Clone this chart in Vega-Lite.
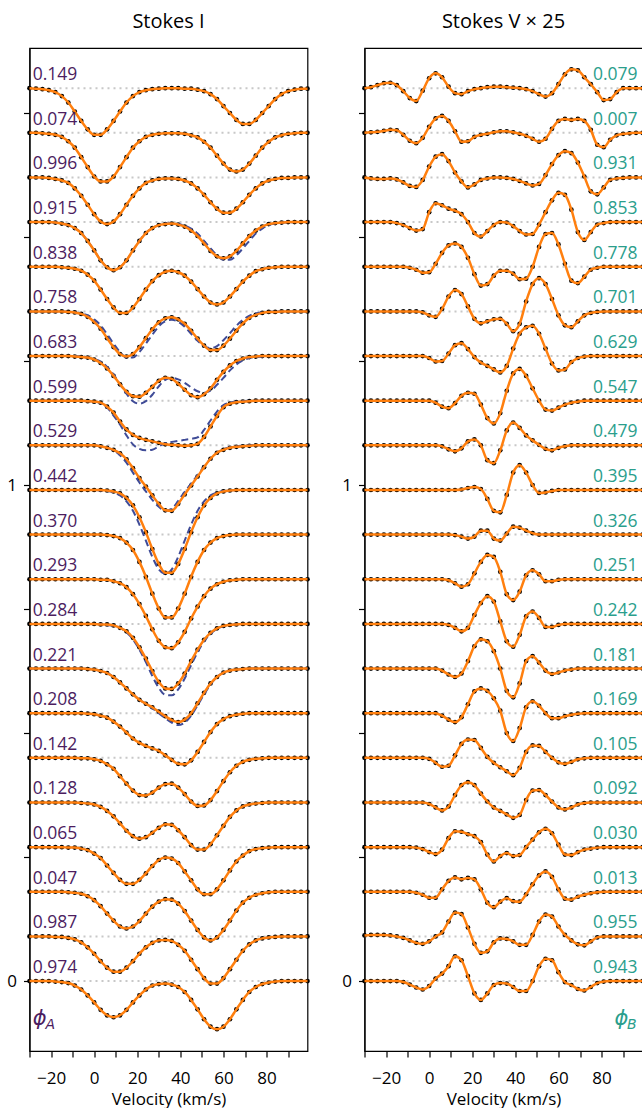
{
"$schema":"https://vega.github.io/schema/vega-lite/v6.json",
"padding":{"left":5.5,"top":11,"right":0,"bottom":0},
"spacing":27,
"config":{"font":"Open Sans","view":{"stroke":"black","strokeWidth":1.2},
"axis":{"grid":false,"domainColor":"black","tickColor":"black","labelColor":"black","titleColor":"black","labelFontSize":17,"titleFontSize":17,"titleFontWeight":"normal","tickSize":6,"domainWidth":1.2,"tickWidth":1.2,"labelOverlap":false},
"axisX":{"labelPadding":13,"titlePadding":5},"axisY":{"labelPadding":7},
"title":{"fontSize":20,"fontWeight":"normal","color":"black","offset":16}},
"datasets":{
"cont":[{"k":0,"c":0,"pa":"0.974","pb":"0.943"},{"k":1,"c":0.09,"pa":"0.987","pb":"0.955"},{"k":2,"c":0.18,"pa":"0.047","pb":"0.013"},{"k":3,"c":0.27,"pa":"0.065","pb":"0.030"},{"k":4,"c":0.36,"pa":"0.128","pb":"0.092"},{"k":5,"c":0.45,"pa":"0.142","pb":"0.105"},{"k":6,"c":0.54,"pa":"0.208","pb":"0.169"},{"k":7,"c":0.63,"pa":"0.221","pb":"0.181"},{"k":8,"c":0.72,"pa":"0.284","pb":"0.242"},{"k":9,"c":0.81,"pa":"0.293","pb":"0.251"},{"k":10,"c":0.9,"pa":"0.370","pb":"0.326"},{"k":11,"c":0.99,"pa":"0.442","pb":"0.395"},{"k":12,"c":1.08,"pa":"0.529","pb":"0.479"},{"k":13,"c":1.17,"pa":"0.599","pb":"0.547"},{"k":14,"c":1.26,"pa":"0.683","pb":"0.629"},{"k":15,"c":1.35,"pa":"0.758","pb":"0.701"},{"k":16,"c":1.44,"pa":"0.838","pb":"0.778"},{"k":17,"c":1.53,"pa":"0.915","pb":"0.853"},{"k":18,"c":1.62,"pa":"0.996","pb":"0.931"},{"k":19,"c":1.71,"pa":"0.074","pb":"0.007"},{"k":20,"c":1.8,"pa":"0.149","pb":"0.079"}],
"I":[
{"k":20,"v":[-30,-27,-24,-21,-18,-15,-12,-9,-6,-3,0,3,6,9,12,15,18,21,24,27,30,33,36,39,42,45,48,51,54,57,60,63,66,69,72,75,78,81,84,87,90,93,96,99],"m":[1.8,1.799,1.798,1.796,1.792,1.784,1.771,1.753,1.734,1.717,1.706,1.706,1.717,1.734,1.753,1.771,1.784,1.792,1.796,1.798,1.799,1.8,1.8,1.8,1.799,1.799,1.797,1.794,1.788,1.778,1.764,1.75,1.736,1.728,1.728,1.736,1.75,1.764,1.778,1.788,1.794,1.797,1.799,1.799]},
{"k":19,"v":[-30,-27,-24,-21,-18,-15,-12,-9,-6,-3,0,3,6,9,12,15,18,21,24,27,30,33,36,39,42,45,48,51,54,57,60,63,66,69,72,75,78,81,84,87,90,93,96,99],"m":[1.71,1.71,1.709,1.708,1.706,1.702,1.693,1.68,1.661,1.641,1.622,1.612,1.612,1.622,1.641,1.661,1.68,1.693,1.702,1.706,1.708,1.709,1.709,1.709,1.708,1.705,1.701,1.692,1.68,1.664,1.648,1.636,1.632,1.636,1.648,1.664,1.68,1.692,1.701,1.705,1.708,1.709,1.71,1.71]},
{"k":18,"v":[-30,-27,-24,-21,-18,-15,-12,-9,-6,-3,0,3,6,9,12,15,18,21,24,27,30,33,36,39,42,45,48,51,54,57,60,63,66,69,72,75,78,81,84,87,90,93,96,99],"m":[1.62,1.62,1.62,1.619,1.617,1.614,1.609,1.598,1.583,1.565,1.546,1.531,1.526,1.531,1.546,1.565,1.583,1.598,1.609,1.614,1.617,1.618,1.618,1.617,1.614,1.608,1.598,1.585,1.57,1.557,1.549,1.549,1.557,1.57,1.585,1.598,1.608,1.614,1.617,1.619,1.619,1.62,1.62,1.62]},
{"k":17,"v":[-30,-27,-24,-21,-18,-15,-12,-9,-6,-3,0,3,6,9,12,15,18,21,24,27,30,33,36,39,42,45,48,51,54,57,60,63,66,69,72,75,78,81,84,87,90,93,96,99],"m":[1.53,1.53,1.53,1.53,1.529,1.527,1.524,1.518,1.508,1.492,1.473,1.453,1.439,1.433,1.439,1.453,1.473,1.492,1.508,1.518,1.524,1.526,1.527,1.525,1.521,1.513,1.502,1.487,1.472,1.461,1.457,1.461,1.472,1.487,1.502,1.513,1.521,1.526,1.528,1.529,1.53,1.53,1.53,1.53],"b":[1.53,1.53,1.53,1.53,1.529,1.527,1.524,1.518,1.508,1.492,1.473,1.453,1.439,1.433,1.439,1.453,1.473,1.492,1.508,1.518,1.524,1.527,1.527,1.526,1.523,1.517,1.507,1.492,1.477,1.463,1.454,1.454,1.463,1.477,1.492,1.507,1.517,1.524,1.527,1.529,1.529,1.53,1.53,1.53]},
{"k":16,"v":[-30,-27,-24,-21,-18,-15,-12,-9,-6,-3,0,3,6,9,12,15,18,21,24,27,30,33,36,39,42,45,48,51,54,57,60,63,66,69,72,75,78,81,84,87,90,93,96,99],"m":[1.44,1.44,1.44,1.44,1.44,1.439,1.438,1.436,1.432,1.424,1.412,1.394,1.375,1.358,1.347,1.347,1.358,1.375,1.394,1.411,1.423,1.43,1.432,1.429,1.422,1.41,1.395,1.38,1.368,1.364,1.368,1.38,1.395,1.41,1.422,1.431,1.435,1.438,1.439,1.44,1.44,1.44,1.44,1.44]},
{"k":15,"v":[-30,-27,-24,-21,-18,-15,-12,-9,-6,-3,0,3,6,9,12,15,18,21,24,27,30,33,36,39,42,45,48,51,54,57,60,63,66,69,72,75,78,81,84,87,90,93,96,99],"m":[1.35,1.35,1.35,1.35,1.35,1.35,1.349,1.348,1.345,1.339,1.329,1.315,1.296,1.278,1.264,1.259,1.264,1.278,1.296,1.314,1.328,1.336,1.338,1.334,1.325,1.311,1.295,1.281,1.272,1.272,1.281,1.295,1.311,1.326,1.337,1.343,1.347,1.349,1.349,1.35,1.35,1.35,1.35,1.35],"b":[1.35,1.35,1.35,1.35,1.35,1.35,1.349,1.348,1.346,1.342,1.334,1.322,1.304,1.285,1.268,1.257,1.257,1.268,1.285,1.303,1.32,1.33,1.333,1.329,1.319,1.305,1.291,1.28,1.276,1.28,1.292,1.306,1.321,1.333,1.341,1.346,1.348,1.349,1.35,1.35,1.35,1.35,1.35,1.35]},
{"k":14,"v":[-30,-27,-24,-21,-18,-15,-12,-9,-6,-3,0,3,6,9,12,15,18,21,24,27,30,33,36,39,42,45,48,51,54,57,60,63,66,69,72,75,78,81,84,87,90,93,96,99],"m":[1.26,1.26,1.26,1.26,1.26,1.26,1.26,1.259,1.258,1.257,1.253,1.246,1.235,1.22,1.203,1.188,1.179,1.178,1.186,1.198,1.21,1.216,1.214,1.204,1.192,1.181,1.177,1.183,1.195,1.212,1.228,1.241,1.25,1.255,1.258,1.259,1.26,1.26,1.26,1.26,1.26,1.26,1.26,1.26],"b":[1.26,1.26,1.26,1.26,1.26,1.26,1.26,1.26,1.259,1.257,1.254,1.249,1.238,1.223,1.203,1.184,1.169,1.164,1.169,1.182,1.199,1.212,1.216,1.213,1.206,1.197,1.189,1.186,1.19,1.202,1.216,1.231,1.243,1.251,1.256,1.258,1.259,1.26,1.26,1.26,1.26,1.26,1.26,1.26]},
{"k":13,"v":[-30,-27,-24,-21,-18,-15,-12,-9,-6,-3,0,3,6,9,12,15,18,21,24,27,30,33,36,39,42,45,48,51,54,57,60,63,66,69,72,75,78,81,84,87,90,93,96,99],"m":[1.17,1.17,1.17,1.17,1.17,1.17,1.17,1.17,1.17,1.169,1.168,1.166,1.158,1.146,1.128,1.112,1.101,1.095,1.091,1.088,1.085,1.082,1.081,1.08,1.079,1.08,1.083,1.097,1.118,1.139,1.157,1.164,1.167,1.168,1.169,1.17,1.17,1.17,1.17,1.17,1.17,1.17,1.17,1.17],"b":[1.17,1.17,1.17,1.17,1.17,1.17,1.17,1.17,1.17,1.169,1.168,1.165,1.156,1.14,1.122,1.1,1.082,1.073,1.07,1.071,1.078,1.084,1.087,1.089,1.091,1.093,1.096,1.111,1.13,1.148,1.161,1.166,1.168,1.169,1.17,1.17,1.17,1.17,1.17,1.17,1.17,1.17,1.17,1.17]},
{"k":12,"v":[-30,-27,-24,-21,-18,-15,-12,-9,-6,-3,0,3,6,9,12,15,18,21,24,27,30,33,36,39,42,45,48,51,54,57,60,63,66,69,72,75,78,81,84,87,90,93,96,99],"m":[1.08,1.08,1.08,1.08,1.08,1.08,1.08,1.08,1.08,1.08,1.08,1.078,1.075,1.071,1.064,1.052,1.034,1.014,0.997,0.979,0.962,0.949,0.948,0.962,0.981,0.999,1.017,1.036,1.053,1.065,1.071,1.075,1.077,1.078,1.079,1.08,1.08,1.08,1.08,1.08,1.08,1.08,1.08,1.08],"b":[1.08,1.08,1.08,1.08,1.08,1.08,1.08,1.08,1.08,1.08,1.08,1.078,1.075,1.07,1.06,1.045,1.025,1.005,0.987,0.97,0.956,0.948,0.952,0.968,0.986,1.003,1.02,1.037,1.053,1.065,1.072,1.076,1.078,1.079,1.08,1.08,1.08,1.08,1.08,1.08,1.08,1.08,1.08,1.08]},
{"k":11,"v":[-30,-27,-24,-21,-18,-15,-12,-9,-6,-3,0,3,6,9,12,15,18,21,24,27,30,33,36,39,42,45,48,51,54,57,60,63,66,69,72,75,78,81,84,87,90,93,96,99],"m":[0.99,0.99,0.99,0.99,0.99,0.99,0.99,0.99,0.99,0.99,0.99,0.99,0.989,0.987,0.983,0.974,0.959,0.935,0.905,0.871,0.841,0.823,0.823,0.841,0.871,0.905,0.935,0.959,0.974,0.983,0.987,0.989,0.99,0.99,0.99,0.99,0.99,0.99,0.99,0.99,0.99,0.99,0.99,0.99],"b":[0.99,0.99,0.99,0.99,0.99,0.99,0.99,0.99,0.99,0.99,0.99,0.989,0.988,0.985,0.979,0.967,0.948,0.92,0.888,0.855,0.83,0.821,0.83,0.855,0.888,0.92,0.948,0.967,0.979,0.985,0.988,0.989,0.99,0.99,0.99,0.99,0.99,0.99,0.99,0.99,0.99,0.99,0.99,0.99]},
{"k":10,"v":[-30,-27,-24,-21,-18,-15,-12,-9,-6,-3,0,3,6,9,12,15,18,21,24,27,30,33,36,39,42,45,48,51,54,57,60,63,66,69,72,75,78,81,84,87,90,93,96,99],"m":[0.9,0.9,0.9,0.9,0.9,0.9,0.9,0.9,0.9,0.9,0.9,0.9,0.899,0.897,0.893,0.884,0.869,0.845,0.815,0.781,0.751,0.733,0.733,0.751,0.781,0.815,0.845,0.869,0.884,0.893,0.897,0.899,0.9,0.9,0.9,0.9,0.9,0.9,0.9,0.9,0.9,0.9,0.9,0.9]},
{"k":9,"v":[-30,-27,-24,-21,-18,-15,-12,-9,-6,-3,0,3,6,9,12,15,18,21,24,27,30,33,36,39,42,45,48,51,54,57,60,63,66,69,72,75,78,81,84,87,90,93,96,99],"m":[0.81,0.81,0.81,0.81,0.81,0.81,0.81,0.81,0.81,0.81,0.81,0.809,0.809,0.806,0.802,0.794,0.78,0.76,0.736,0.709,0.686,0.673,0.671,0.683,0.704,0.731,0.755,0.776,0.791,0.8,0.805,0.808,0.809,0.81,0.81,0.81,0.81,0.81,0.81,0.81,0.81,0.81,0.81,0.81]},
{"k":8,"v":[-30,-27,-24,-21,-18,-15,-12,-9,-6,-3,0,3,6,9,12,15,18,21,24,27,30,33,36,39,42,45,48,51,54,57,60,63,66,69,72,75,78,81,84,87,90,93,96,99],"m":[0.72,0.72,0.72,0.72,0.72,0.72,0.72,0.72,0.72,0.72,0.72,0.719,0.719,0.717,0.712,0.705,0.692,0.673,0.65,0.625,0.603,0.59,0.589,0.6,0.62,0.645,0.668,0.688,0.702,0.711,0.716,0.718,0.719,0.72,0.72,0.72,0.72,0.72,0.72,0.72,0.72,0.72,0.72,0.72],"b":[0.72,0.72,0.72,0.72,0.72,0.72,0.72,0.72,0.72,0.72,0.72,0.72,0.718,0.716,0.712,0.703,0.689,0.668,0.643,0.615,0.591,0.577,0.576,0.588,0.61,0.637,0.663,0.685,0.7,0.71,0.715,0.718,0.719,0.72,0.72,0.72,0.72,0.72,0.72,0.72,0.72,0.72,0.72,0.72]},
{"k":7,"v":[-30,-27,-24,-21,-18,-15,-12,-9,-6,-3,0,3,6,9,12,15,18,21,24,27,30,33,36,39,42,45,48,51,54,57,60,63,66,69,72,75,78,81,84,87,90,93,96,99],"m":[0.63,0.63,0.63,0.63,0.63,0.63,0.63,0.63,0.63,0.629,0.628,0.625,0.621,0.613,0.602,0.59,0.578,0.567,0.559,0.552,0.543,0.534,0.526,0.522,0.527,0.54,0.56,0.581,0.6,0.613,0.622,0.626,0.628,0.629,0.63,0.63,0.63,0.63,0.63,0.63,0.63,0.63,0.63,0.63],"b":[0.63,0.63,0.63,0.63,0.63,0.63,0.63,0.63,0.63,0.629,0.628,0.625,0.621,0.613,0.602,0.59,0.578,0.567,0.559,0.55,0.54,0.53,0.521,0.516,0.521,0.535,0.556,0.578,0.598,0.613,0.622,0.626,0.628,0.629,0.63,0.63,0.63,0.63,0.63,0.63,0.63,0.63,0.63,0.63]},
{"k":6,"v":[-30,-27,-24,-21,-18,-15,-12,-9,-6,-3,0,3,6,9,12,15,18,21,24,27,30,33,36,39,42,45,48,51,54,57,60,63,66,69,72,75,78,81,84,87,90,93,96,99],"m":[0.54,0.54,0.54,0.54,0.54,0.54,0.54,0.54,0.54,0.539,0.538,0.535,0.531,0.523,0.513,0.501,0.489,0.48,0.474,0.469,0.464,0.455,0.446,0.438,0.437,0.445,0.462,0.482,0.502,0.518,0.528,0.534,0.537,0.539,0.54,0.54,0.54,0.54,0.54,0.54,0.54,0.54,0.54,0.54]},
{"k":5,"v":[-30,-27,-24,-21,-18,-15,-12,-9,-6,-3,0,3,6,9,12,15,18,21,24,27,30,33,36,39,42,45,48,51,54,57,60,63,66,69,72,75,78,81,84,87,90,93,96,99],"m":[0.45,0.45,0.45,0.45,0.45,0.45,0.45,0.45,0.449,0.449,0.447,0.444,0.437,0.428,0.413,0.398,0.384,0.375,0.374,0.38,0.39,0.397,0.398,0.39,0.377,0.362,0.353,0.354,0.365,0.383,0.403,0.421,0.434,0.442,0.446,0.448,0.449,0.45,0.45,0.45,0.45,0.45,0.45,0.45]},
{"k":4,"v":[-30,-27,-24,-21,-18,-15,-12,-9,-6,-3,0,3,6,9,12,15,18,21,24,27,30,33,36,39,42,45,48,51,54,57,60,63,66,69,72,75,78,81,84,87,90,93,96,99],"m":[0.36,0.36,0.36,0.36,0.36,0.36,0.36,0.36,0.359,0.358,0.356,0.351,0.343,0.332,0.318,0.303,0.292,0.287,0.29,0.299,0.309,0.316,0.315,0.304,0.29,0.274,0.265,0.265,0.276,0.294,0.313,0.331,0.344,0.352,0.356,0.358,0.359,0.36,0.36,0.36,0.36,0.36,0.36,0.36]},
{"k":3,"v":[-30,-27,-24,-21,-18,-15,-12,-9,-6,-3,0,3,6,9,12,15,18,21,24,27,30,33,36,39,42,45,48,51,54,57,60,63,66,69,72,75,78,81,84,87,90,93,96,99],"m":[0.27,0.27,0.27,0.27,0.27,0.27,0.269,0.269,0.267,0.264,0.257,0.248,0.233,0.218,0.204,0.196,0.196,0.204,0.217,0.232,0.244,0.249,0.247,0.238,0.221,0.203,0.185,0.175,0.175,0.185,0.203,0.223,0.241,0.253,0.262,0.266,0.268,0.269,0.27,0.27,0.27,0.27,0.27,0.27]},
{"k":2,"v":[-30,-27,-24,-21,-18,-15,-12,-9,-6,-3,0,3,6,9,12,15,18,21,24,27,30,33,36,39,42,45,48,51,54,57,60,63,66,69,72,75,78,81,84,87,90,93,96,99],"m":[0.18,0.18,0.18,0.18,0.18,0.18,0.179,0.178,0.176,0.171,0.163,0.151,0.136,0.122,0.11,0.106,0.11,0.121,0.136,0.15,0.16,0.165,0.164,0.156,0.141,0.122,0.103,0.088,0.082,0.088,0.103,0.122,0.142,0.158,0.168,0.174,0.177,0.179,0.18,0.18,0.18,0.18,0.18,0.18]},
{"k":1,"v":[-30,-27,-24,-21,-18,-15,-12,-9,-6,-3,0,3,6,9,12,15,18,21,24,27,30,33,36,39,42,45,48,51,54,57,60,63,66,69,72,75,78,81,84,87,90,93,96,99],"m":[0.09,0.09,0.09,0.09,0.089,0.089,0.087,0.084,0.078,0.068,0.055,0.04,0.027,0.019,0.019,0.027,0.04,0.055,0.068,0.077,0.082,0.083,0.081,0.073,0.061,0.043,0.024,0.006,-0.005,-0.005,0.006,0.024,0.043,0.061,0.074,0.082,0.086,0.088,0.089,0.09,0.09,0.09,0.09,0.09]},
{"k":0,"v":[-30,-27,-24,-21,-18,-15,-12,-9,-6,-3,0,3,6,9,12,15,18,21,24,27,30,33,36,39,42,45,48,51,54,57,60,63,66,69,72,75,78,81,84,87,90,93,96,99],"m":[0,0,0,0,-0.001,-0.002,-0.004,-0.009,-0.017,-0.029,-0.043,-0.058,-0.069,-0.073,-0.069,-0.058,-0.043,-0.029,-0.017,-0.009,-0.006,-0.005,-0.007,-0.012,-0.022,-0.038,-0.057,-0.077,-0.092,-0.097,-0.092,-0.077,-0.057,-0.038,-0.022,-0.012,-0.006,-0.003,-0.001,0,0,0,0,0]}
],
"V":[
{"k":20,"v":[-30,-27,-24,-21,-18,-15,-12,-9,-6,-3,0,3,6,9,12,15,18,21,24,27,30,33,36,39,42,45,48,51,54,57,60,63,66,69,72,75,78,81,84,87,90,93,96,99],"m":[1.8,1.802,1.806,1.81,1.811,1.806,1.794,1.78,1.774,1.795,1.82,1.83,1.822,1.803,1.79,1.788,1.794,1.798,1.8,1.802,1.803,1.803,1.802,1.801,1.8,1.798,1.794,1.788,1.783,1.79,1.808,1.828,1.838,1.836,1.822,1.808,1.792,1.776,1.778,1.792,1.8,1.8,1.8,1.8]},
{"k":19,"v":[-30,-27,-24,-21,-18,-15,-12,-9,-6,-3,0,3,6,9,12,15,18,21,24,27,30,33,36,39,42,45,48,51,54,57,60,63,66,69,72,75,78,81,84,87,90,93,96,99],"m":[1.71,1.711,1.712,1.714,1.716,1.715,1.706,1.694,1.689,1.7,1.722,1.739,1.744,1.734,1.713,1.692,1.693,1.702,1.706,1.708,1.711,1.713,1.713,1.711,1.708,1.704,1.698,1.692,1.698,1.718,1.734,1.738,1.736,1.738,1.734,1.716,1.686,1.681,1.696,1.705,1.708,1.709,1.71,1.71]},
{"k":18,"v":[-30,-27,-24,-21,-18,-15,-12,-9,-6,-3,0,3,6,9,12,15,18,21,24,27,30,33,36,39,42,45,48,51,54,57,60,63,66,69,72,75,78,81,84,87,90,93,96,99],"m":[1.62,1.618,1.617,1.617,1.618,1.616,1.61,1.603,1.601,1.615,1.642,1.662,1.667,1.653,1.63,1.612,1.6,1.606,1.615,1.618,1.62,1.62,1.619,1.617,1.613,1.608,1.604,1.607,1.625,1.647,1.665,1.673,1.669,1.65,1.622,1.592,1.586,1.6,1.615,1.618,1.619,1.62,1.62,1.62]},
{"k":17,"v":[-30,-27,-24,-21,-18,-15,-12,-9,-6,-3,0,3,6,9,12,15,18,21,24,27,30,33,36,39,42,45,48,51,54,57,60,63,66,69,72,75,78,81,84,87,90,93,96,99],"m":[1.53,1.53,1.53,1.53,1.53,1.528,1.524,1.518,1.513,1.516,1.55,1.568,1.564,1.557,1.553,1.546,1.53,1.508,1.501,1.512,1.524,1.53,1.529,1.522,1.512,1.505,1.506,1.525,1.55,1.574,1.589,1.585,1.555,1.51,1.494,1.51,1.525,1.528,1.53,1.53,1.53,1.53,1.53,1.53]},
{"k":16,"v":[-30,-27,-24,-21,-18,-15,-12,-9,-6,-3,0,3,6,9,12,15,18,21,24,27,30,33,36,39,42,45,48,51,54,57,60,63,66,69,72,75,78,81,84,87,90,93,96,99],"m":[1.44,1.44,1.44,1.44,1.44,1.44,1.44,1.438,1.434,1.428,1.429,1.446,1.468,1.483,1.487,1.48,1.458,1.425,1.402,1.405,1.422,1.432,1.432,1.426,1.415,1.416,1.44,1.48,1.506,1.508,1.485,1.446,1.412,1.407,1.42,1.434,1.438,1.44,1.44,1.44,1.44,1.44,1.44,1.44]},
{"k":15,"v":[-30,-27,-24,-21,-18,-15,-12,-9,-6,-3,0,3,6,9,12,15,18,21,24,27,30,33,36,39,42,45,48,51,54,57,60,63,66,69,72,75,78,81,84,87,90,93,96,99],"m":[1.35,1.35,1.35,1.35,1.35,1.35,1.35,1.35,1.35,1.348,1.342,1.339,1.355,1.38,1.393,1.385,1.36,1.335,1.326,1.33,1.334,1.335,1.325,1.31,1.325,1.37,1.405,1.417,1.405,1.375,1.342,1.322,1.318,1.33,1.342,1.347,1.349,1.35,1.35,1.35,1.35,1.35,1.35,1.35]},
{"k":14,"v":[-30,-27,-24,-21,-18,-15,-12,-9,-6,-3,0,3,6,9,12,15,18,21,24,27,30,33,36,39,42,45,48,51,54,57,60,63,66,69,72,75,78,81,84,87,90,93,96,99],"m":[1.26,1.26,1.26,1.26,1.26,1.26,1.26,1.26,1.26,1.26,1.256,1.249,1.25,1.265,1.282,1.286,1.274,1.258,1.247,1.24,1.233,1.227,1.24,1.275,1.305,1.318,1.321,1.305,1.275,1.245,1.231,1.233,1.248,1.256,1.259,1.26,1.26,1.26,1.26,1.26,1.26,1.26,1.26,1.26]},
{"k":13,"v":[-30,-27,-24,-21,-18,-15,-12,-9,-6,-3,0,3,6,9,12,15,18,21,24,27,30,33,36,39,42,45,48,51,54,57,60,63,66,69,72,75,78,81,84,87,90,93,96,99],"m":[1.17,1.17,1.17,1.17,1.17,1.17,1.17,1.17,1.17,1.17,1.17,1.166,1.158,1.155,1.165,1.18,1.186,1.184,1.162,1.135,1.124,1.145,1.19,1.225,1.234,1.22,1.195,1.17,1.152,1.15,1.156,1.162,1.166,1.168,1.17,1.17,1.17,1.17,1.17,1.17,1.17,1.17,1.17,1.17]},
{"k":12,"v":[-30,-27,-24,-21,-18,-15,-12,-9,-6,-3,0,3,6,9,12,15,18,21,24,27,30,33,36,39,42,45,48,51,54,57,60,63,66,69,72,75,78,81,84,87,90,93,96,99],"m":[1.08,1.08,1.08,1.08,1.08,1.08,1.08,1.08,1.08,1.08,1.08,1.08,1.078,1.072,1.068,1.074,1.088,1.092,1.08,1.05,1.044,1.07,1.11,1.126,1.115,1.1,1.09,1.081,1.073,1.07,1.075,1.078,1.08,1.08,1.08,1.08,1.08,1.08,1.08,1.08,1.08,1.08,1.08,1.08]},
{"k":11,"v":[-30,-27,-24,-21,-18,-15,-12,-9,-6,-3,0,3,6,9,12,15,18,21,24,27,30,33,36,39,42,45,48,51,54,57,60,63,66,69,72,75,78,81,84,87,90,93,96,99],"m":[0.99,0.99,0.99,0.99,0.99,0.99,0.99,0.99,0.99,0.99,0.99,0.99,0.99,0.99,0.99,0.991,0.994,0.996,0.992,0.972,0.948,0.945,0.98,1.025,1.04,1.025,1,0.984,0.985,0.988,0.99,0.99,0.99,0.99,0.99,0.99,0.99,0.99,0.99,0.99,0.99,0.99,0.99,0.99]},
{"k":10,"v":[-30,-27,-24,-21,-18,-15,-12,-9,-6,-3,0,3,6,9,12,15,18,21,24,27,30,33,36,39,42,45,48,51,54,57,60,63,66,69,72,75,78,81,84,87,90,93,96,99],"m":[0.9,0.9,0.9,0.9,0.9,0.9,0.9,0.9,0.9,0.9,0.9,0.9,0.9,0.9,0.899,0.896,0.892,0.896,0.908,0.908,0.892,0.888,0.902,0.916,0.914,0.908,0.903,0.9,0.9,0.9,0.9,0.9,0.9,0.9,0.9,0.9,0.9,0.9,0.9,0.9,0.9,0.9,0.9,0.9]},
{"k":9,"v":[-30,-27,-24,-21,-18,-15,-12,-9,-6,-3,0,3,6,9,12,15,18,21,24,27,30,33,36,39,42,45,48,51,54,57,60,63,66,69,72,75,78,81,84,87,90,93,96,99],"m":[0.81,0.81,0.81,0.81,0.81,0.81,0.81,0.81,0.81,0.81,0.81,0.81,0.81,0.808,0.802,0.795,0.8,0.822,0.845,0.859,0.855,0.825,0.78,0.768,0.785,0.818,0.828,0.82,0.806,0.806,0.809,0.81,0.81,0.81,0.81,0.81,0.81,0.81,0.81,0.81,0.81,0.81,0.81,0.81]},
{"k":8,"v":[-30,-27,-24,-21,-18,-15,-12,-9,-6,-3,0,3,6,9,12,15,18,21,24,27,30,33,36,39,42,45,48,51,54,57,60,63,66,69,72,75,78,81,84,87,90,93,96,99],"m":[0.72,0.72,0.72,0.72,0.72,0.72,0.72,0.72,0.72,0.72,0.72,0.72,0.72,0.718,0.712,0.705,0.712,0.738,0.762,0.776,0.765,0.725,0.685,0.674,0.698,0.735,0.745,0.732,0.714,0.714,0.718,0.72,0.72,0.72,0.72,0.72,0.72,0.72,0.72,0.72,0.72,0.72,0.72,0.72]},
{"k":7,"v":[-30,-27,-24,-21,-18,-15,-12,-9,-6,-3,0,3,6,9,12,15,18,21,24,27,30,33,36,39,42,45,48,51,54,57,60,63,66,69,72,75,78,81,84,87,90,93,96,99],"m":[0.63,0.63,0.63,0.63,0.63,0.63,0.63,0.63,0.63,0.63,0.63,0.63,0.626,0.618,0.613,0.62,0.645,0.675,0.689,0.685,0.665,0.63,0.585,0.572,0.6,0.645,0.655,0.642,0.626,0.619,0.622,0.626,0.628,0.63,0.63,0.63,0.63,0.63,0.63,0.63,0.63,0.63,0.63,0.63]},
{"k":6,"v":[-30,-27,-24,-21,-18,-15,-12,-9,-6,-3,0,3,6,9,12,15,18,21,24,27,30,33,36,39,42,45,48,51,54,57,60,63,66,69,72,75,78,81,84,87,90,93,96,99],"m":[0.54,0.54,0.54,0.54,0.54,0.54,0.54,0.54,0.54,0.54,0.54,0.54,0.535,0.527,0.522,0.532,0.558,0.584,0.59,0.585,0.57,0.545,0.5,0.484,0.51,0.552,0.564,0.555,0.54,0.53,0.53,0.534,0.537,0.539,0.54,0.54,0.54,0.54,0.54,0.54,0.54,0.54,0.54,0.54]},
{"k":5,"v":[-30,-27,-24,-21,-18,-15,-12,-9,-6,-3,0,3,6,9,12,15,18,21,24,27,30,33,36,39,42,45,48,51,54,57,60,63,66,69,72,75,78,81,84,87,90,93,96,99],"m":[0.45,0.45,0.45,0.45,0.45,0.45,0.45,0.45,0.45,0.45,0.448,0.44,0.432,0.434,0.455,0.478,0.487,0.486,0.47,0.452,0.44,0.431,0.423,0.415,0.43,0.462,0.475,0.474,0.462,0.45,0.441,0.438,0.442,0.447,0.449,0.45,0.45,0.45,0.45,0.45,0.45,0.45,0.45,0.45]},
{"k":4,"v":[-30,-27,-24,-21,-18,-15,-12,-9,-6,-3,0,3,6,9,12,15,18,21,24,27,30,33,36,39,42,45,48,51,54,57,60,63,66,69,72,75,78,81,84,87,90,93,96,99],"m":[0.36,0.36,0.36,0.36,0.36,0.36,0.36,0.36,0.36,0.36,0.357,0.35,0.344,0.352,0.375,0.395,0.401,0.395,0.378,0.362,0.35,0.343,0.336,0.329,0.335,0.365,0.384,0.385,0.375,0.362,0.35,0.346,0.35,0.356,0.359,0.36,0.36,0.36,0.36,0.36,0.36,0.36,0.36,0.36]},
{"k":3,"v":[-30,-27,-24,-21,-18,-15,-12,-9,-6,-3,0,3,6,9,12,15,18,21,24,27,30,33,36,39,42,45,48,51,54,57,60,63,66,69,72,75,78,81,84,87,90,93,96,99],"m":[0.27,0.27,0.27,0.27,0.27,0.27,0.27,0.27,0.269,0.266,0.26,0.256,0.265,0.288,0.302,0.301,0.296,0.292,0.28,0.255,0.241,0.252,0.258,0.252,0.254,0.27,0.285,0.3,0.307,0.298,0.275,0.255,0.254,0.26,0.265,0.267,0.269,0.27,0.27,0.27,0.27,0.27,0.27,0.27]},
{"k":2,"v":[-30,-27,-24,-21,-18,-15,-12,-9,-6,-3,0,3,6,9,12,15,18,21,24,27,30,33,36,39,42,45,48,51,54,57,60,63,66,69,72,75,78,81,84,87,90,93,96,99],"m":[0.18,0.18,0.18,0.18,0.18,0.18,0.18,0.18,0.178,0.174,0.168,0.168,0.185,0.202,0.209,0.205,0.208,0.205,0.185,0.158,0.149,0.16,0.167,0.161,0.16,0.175,0.195,0.213,0.221,0.21,0.185,0.166,0.164,0.17,0.174,0.177,0.179,0.18,0.18,0.18,0.18,0.18,0.18,0.18]},
{"k":1,"v":[-30,-27,-24,-21,-18,-15,-12,-9,-6,-3,0,3,6,9,12,15,18,21,24,27,30,33,36,39,42,45,48,51,54,57,60,63,66,69,72,75,78,81,84,87,90,93,96,99],"m":[0.092,0.093,0.093,0.093,0.092,0.09,0.087,0.082,0.077,0.075,0.08,0.09,0.098,0.12,0.138,0.135,0.108,0.075,0.057,0.06,0.078,0.086,0.085,0.08,0.073,0.073,0.093,0.12,0.134,0.13,0.11,0.093,0.082,0.074,0.072,0.08,0.088,0.09,0.09,0.09,0.09,0.09,0.09,0.09]},
{"k":0,"v":[-30,-27,-24,-21,-18,-15,-12,-9,-6,-3,0,3,6,9,12,15,18,21,24,27,30,33,36,39,42,45,48,51,54,57,60,63,66,69,72,75,78,81,84,87,90,93,96,99],"m":[0,0,0,0,0,0,-0.002,-0.007,-0.013,-0.017,-0.01,0.005,0.015,0.03,0.05,0.042,0.01,-0.025,-0.038,-0.025,-0.008,-0.004,-0.005,-0.012,-0.02,-0.02,0,0.03,0.045,0.042,0.018,-0.002,-0.008,-0.016,-0.019,-0.012,-0.004,-0.001,0,0,0,0,0,0]}
]},
"hconcat":[
{"title":"Stokes I","width":278,"height":1003,"resolve":{"axis":{"x":"independent"}},"layer":[
{"data":{"name":"cont"},"mark":{"type":"rule","color":"#c8c8c8","strokeDash":[2,4],"strokeWidth":2},"encoding":{"y":{"field":"c","type":"quantitative","scale":{"domain":[-0.141,1.881],"nice":false,"zero":false},"axis":{"values":[0,0.25,0.5,0.75,1,1.25,1.5,1.75],"labelExpr":"datum.value === 0 ? '0' : datum.value === 1 ? '1' : ''"},"title":null}}},
{"data":{"name":"I"},"transform":[{"flatten":["v","m"]}],"mark":{"type":"point","filled":true,"color":"black","size":22,"opacity":1},"encoding":{"x":{"field":"v","type":"quantitative","scale":{"domain":[-30,99],"nice":false,"zero":false},"axis":{"orient":"bottom","values":[-20,0,20,40,60,80],"format":"d"},"title":"Velocity (km/s)"},"y":{"field":"m","type":"quantitative","title":null}}},
{"data":{"name":"I"},"transform":[{"filter":"isArray(datum.b)"},{"flatten":["v","b"]}],"mark":{"type":"line","color":"#3f4b97","strokeDash":[7,4],"strokeWidth":2,"interpolate":"monotone"},"encoding":{"x":{"field":"v","type":"quantitative","axis":null},"y":{"field":"b","type":"quantitative","title":null},"detail":{"field":"k"}}},
{"data":{"name":"I"},"transform":[{"flatten":["v","m"]}],"mark":{"type":"line","color":"#ff7f0e","strokeWidth":2.5,"interpolate":"monotone"},"encoding":{"x":{"field":"v","type":"quantitative","axis":{"orient":"bottom","values":[-30,-10,10,30,50,70,90],"labels":false,"domain":false,"title":null}},"y":{"field":"m","type":"quantitative","title":null},"detail":{"field":"k"}}},
{"data":{"name":"cont"},"mark":{"type":"text","align":"left","baseline":"alphabetic","dy":-8,"fontSize":17.5,"color":"#4c1d5f"},"encoding":{"x":{"datum":-28.5,"type":"quantitative","axis":null},"y":{"field":"c","type":"quantitative","title":null},"text":{"field":"pa"}}},
{"data":{"values":[{"s":"ϕ"}]},"mark":{"type":"text","align":"left","baseline":"alphabetic","fontSize":21,"fontStyle":"italic","font":"DejaVu Sans","color":"#4c1d5f"},"encoding":{"x":{"datum":-28.5,"type":"quantitative","axis":null},"y":{"datum":-0.089,"type":"quantitative"},"text":{"field":"s"}}},
{"data":{"values":[{"s":"A"}]},"mark":{"type":"text","align":"left","baseline":"alphabetic","fontSize":14,"fontStyle":"italic","font":"DejaVu Sans","color":"#4c1d5f"},"encoding":{"x":{"datum":-22.6,"type":"quantitative","axis":null},"y":{"datum":-0.097,"type":"quantitative"},"text":{"field":"s"}}}
]},
{"title":"Stokes V × 25","width":278,"height":1003,"resolve":{"axis":{"x":"independent"}},"layer":[
{"data":{"name":"cont"},"mark":{"type":"rule","color":"#c8c8c8","strokeDash":[2,4],"strokeWidth":2},"encoding":{"y":{"field":"c","type":"quantitative","scale":{"domain":[-0.141,1.881],"nice":false,"zero":false},"axis":{"values":[0,0.25,0.5,0.75,1,1.25,1.5,1.75],"labelExpr":"datum.value === 0 ? '0' : datum.value === 1 ? '1' : ''"},"title":null}}},
{"data":{"name":"V"},"transform":[{"flatten":["v","m"]}],"mark":{"type":"point","filled":true,"color":"black","size":22,"opacity":1},"encoding":{"x":{"field":"v","type":"quantitative","scale":{"domain":[-30,99],"nice":false,"zero":false},"axis":{"orient":"bottom","values":[-20,0,20,40,60,80],"format":"d"},"title":"Velocity (km/s)"},"y":{"field":"m","type":"quantitative","title":null}}},
{"data":{"name":"V"},"transform":[{"flatten":["v","m"]}],"mark":{"type":"line","color":"#ff7f0e","strokeWidth":2.5,"interpolate":"monotone"},"encoding":{"x":{"field":"v","type":"quantitative","axis":{"orient":"bottom","values":[-30,-10,10,30,50,70,90],"labels":false,"domain":false,"title":null}},"y":{"field":"m","type":"quantitative","title":null},"detail":{"field":"k"}}},
{"data":{"name":"cont"},"mark":{"type":"text","align":"left","baseline":"alphabetic","dy":-8,"fontSize":17.5,"color":"#2b9e8c"},"encoding":{"x":{"datum":76,"type":"quantitative","axis":null},"y":{"field":"c","type":"quantitative","title":null},"text":{"field":"pb"}}},
{"data":{"values":[{"s":"ϕ"}]},"mark":{"type":"text","align":"left","baseline":"alphabetic","fontSize":21,"fontStyle":"italic","font":"DejaVu Sans","color":"#2b9e8c"},"encoding":{"x":{"datum":86,"type":"quantitative","axis":null},"y":{"datum":-0.089,"type":"quantitative"},"text":{"field":"s"}}},
{"data":{"values":[{"s":"B"}]},"mark":{"type":"text","align":"left","baseline":"alphabetic","fontSize":14,"fontStyle":"italic","font":"DejaVu Sans","color":"#2b9e8c"},"encoding":{"x":{"datum":91.8,"type":"quantitative","axis":null},"y":{"datum":-0.097,"type":"quantitative"},"text":{"field":"s"}}}
]}
]
}
